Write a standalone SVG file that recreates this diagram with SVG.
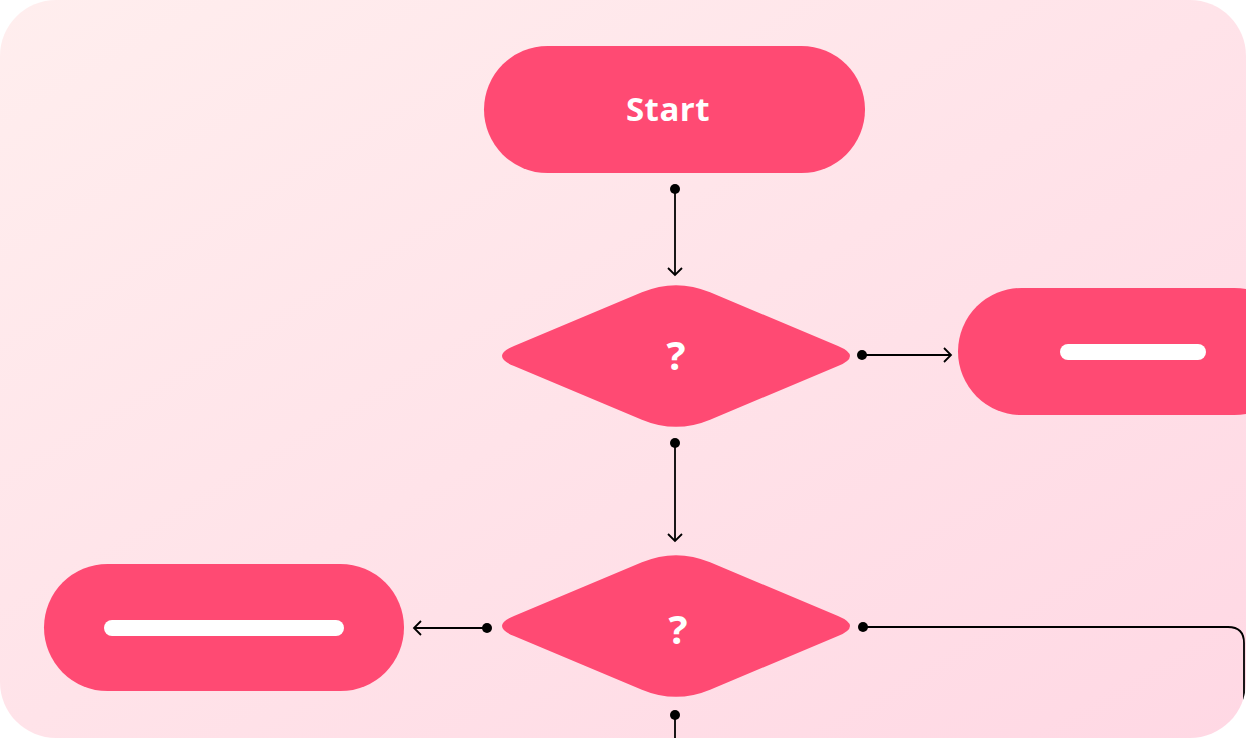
<svg xmlns="http://www.w3.org/2000/svg" width="1246" height="738" viewBox="0 0 1246 738">
<defs>
<linearGradient id="bg" x1="0" y1="0" x2="1" y2="1">
<stop offset="0" stop-color="#FFEEEE"/>
<stop offset="1" stop-color="#FFD8E4"/>
</linearGradient>
<marker id="dot" markerUnits="userSpaceOnUse" viewBox="-6 -6 12 12" refX="0" refY="0" markerWidth="12" markerHeight="12">
<circle cx="0" cy="0" r="5" fill="#000"/>
</marker>
<marker id="arr" markerUnits="userSpaceOnUse" viewBox="-9 -9 11 18" refX="0" refY="0" markerWidth="11" markerHeight="18" orient="auto">
<path d="M-7,-7 L0,0 L-7,7" fill="none" stroke="#000" stroke-width="1.8"/>
</marker>
<clipPath id="clip"><rect x="0" y="0" width="1246" height="738" rx="56"/></clipPath>
</defs>
<style>
.node{fill:#FF4A73}
.bar{fill:#FFFFFF}
.lbl{fill:#FFFFFF;font-family:"Open Sans","Liberation Sans",sans-serif;font-weight:700;text-anchor:middle}
.edge{fill:none;stroke:#000;stroke-width:1.8}
</style>
<rect x="0" y="0" width="1246" height="738" rx="56" fill="url(#bg)"/>
<g clip-path="url(#clip)">
<g id="start">
<rect class="node" x="484" y="46" width="381" height="127" rx="63.5"/>
<text class="lbl" x="668" y="121" font-size="33" letter-spacing="0.5">Start</text>
</g>
<g id="decision1">
<path class="node" d="M514,345.9 L641.9,292.3 Q676,278 710.1,292.3 L838,345.9 Q862,356 838,366.1 L710.1,419.7 Q676,434 641.9,419.7 L514,366.1 Q490,356 514,345.9 Z"/>
<text class="lbl" x="676" y="370" font-size="40">?</text>
</g>
<g id="decision2">
<path class="node" d="M514,615.9 L641.9,562.3 Q676,548 710.1,562.3 L838,615.9 Q862,626 838,636.1 L710.1,689.7 Q676,704 641.9,689.7 L514,636.1 Q490,626 514,615.9 Z"/>
<text class="lbl" x="678" y="644" font-size="40">?</text>
</g>
<g id="result-right">
<rect class="node" x="958" y="288" width="340" height="127" rx="63.5"/>
<rect class="bar" x="1060" y="344" width="146" height="16" rx="8"/>
</g>
<g id="result-left">
<rect class="node" x="44" y="564" width="360" height="127" rx="63.5"/>
<rect class="bar" x="104" y="620" width="240" height="16" rx="8"/>
</g>
<g id="connectors">
<path class="edge" d="M675,189 L675,275" marker-start="url(#dot)" marker-end="url(#arr)"/>
<path class="edge" d="M862,355 L951,355" marker-start="url(#dot)" marker-end="url(#arr)"/>
<path class="edge" d="M675,443 L675,541" marker-start="url(#dot)" marker-end="url(#arr)"/>
<path class="edge" d="M487,628 L414,628" marker-start="url(#dot)" marker-end="url(#arr)"/>
<path class="edge" d="M863,627 L1228,627 Q1244,627 1244,643 L1244,745" marker-start="url(#dot)"/>
<path class="edge" d="M675,715 L675,745" marker-start="url(#dot)"/>
</g>
</g>
</svg>
